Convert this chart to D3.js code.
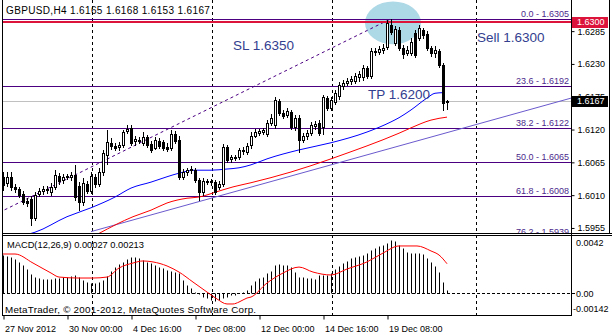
<!DOCTYPE html>
<html><head><meta charset="utf-8">
<script src="https://cdn.jsdelivr.net/npm/d3@7"></script>
<style>
html,body{margin:0;padding:0;background:#fff;}
svg{display:block;font-family:"Liberation Sans",Arial,sans-serif;}
</style></head><body>
<svg id="c" width="612" height="335"></svg>
<script>
// ---------------- data ----------------
const titleText = "GBPUSD,H4  1.6165 1.6168 1.6153 1.6167";
const macdTitle = "MACD(12,26,9) 0.00027 0.00213";
const copyright = "MetaTrader, \u00a9 2001-2012, MetaQuotes Software Corp.";

const opens = [1.6040,1.6030,1.6040,1.6023,1.6020,1.6011,1.6000,1.6003,1.5971,1.6011,
1.6016,1.6020,1.6015,1.6023,1.6041,1.6035,1.6040,1.6040,1.6043,1.6025,
1.5998,1.6028,1.6016,1.6040,1.6028,1.6048,1.6076,1.6097,1.6092,1.6090,
1.6093,1.6117,1.6122,1.6100,1.6100,1.6097,1.6107,1.6095,1.6088,1.6100,
1.6098,1.6090,1.6088,1.6112,1.6102,1.6040,1.6048,1.6051,1.6051,1.6035,
1.6015,1.6033,1.6031,1.6031,1.6023,1.6028,1.6090,1.6070,1.6071,1.6073,
1.6083,1.6081,1.6093,1.6108,1.6113,1.6115,1.6112,1.6130,1.6127,1.6167,
1.6147,1.6143,1.6148,1.6123,1.6138,1.6102,1.6108,1.6113,1.6125,1.6130,
1.6123,1.6172,1.6155,1.6165,1.6176,1.6192,1.6197,1.6201,1.6201,1.6207,
1.6207,1.6222,1.6209,1.6251,1.6249,1.6252,1.6257,1.6294,1.6264,1.6286,
1.6256,1.6247,1.6247,1.6281,1.6273,1.6286,1.6279,1.6256,1.6247,1.6251,
1.6227,1.6165];
const highs = [1.6048,1.6048,1.6048,1.6028,1.6023,1.6016,1.6005,1.6008,1.6015,1.6021,
1.6025,1.6025,1.6030,1.6051,1.6046,1.6045,1.6045,1.6048,1.6060,1.6031,
1.6038,1.6033,1.6048,1.6045,1.6055,1.6085,1.6118,1.6105,1.6097,1.6098,
1.6118,1.6127,1.6127,1.6108,1.6107,1.6115,1.6110,1.6100,1.6107,1.6105,
1.6102,1.6097,1.6118,1.6117,1.6108,1.6053,1.6055,1.6058,1.6055,1.6038,
1.6038,1.6036,1.6036,1.6035,1.6033,1.6095,1.6093,1.6076,1.6076,1.6088,
1.6090,1.6097,1.6115,1.6120,1.6120,1.6122,1.6135,1.6145,1.6174,1.6170,
1.6152,1.6155,1.6152,1.6143,1.6143,1.6113,1.6118,1.6131,1.6133,1.6135,
1.6177,1.6176,1.6174,1.6186,1.6199,1.6202,1.6206,1.6209,1.6214,1.6217,
1.6227,1.6226,1.6256,1.6256,1.6259,1.6263,1.6303,1.6305,1.6293,1.6291,
1.6261,1.6259,1.6273,1.6286,1.6294,1.6289,1.6284,1.6259,1.6259,1.6254,
1.6231,1.6168];
const lows = [1.6018,1.6025,1.6018,1.6015,1.6006,1.5994,1.5991,1.5959,1.5968,1.6008,
1.6011,1.6013,1.6010,1.6020,1.6028,1.6030,1.6036,1.6035,1.6001,1.5984,
1.5993,1.6013,1.6013,1.6023,1.6025,1.6043,1.6061,1.6086,1.6085,1.6085,
1.6090,1.6113,1.6093,1.6093,1.6097,1.6093,1.6090,1.6081,1.6086,1.6088,
1.6085,1.6083,1.6085,1.6097,1.6036,1.6036,1.6043,1.6046,1.6031,1.6001,
1.6010,1.6028,1.6026,1.6011,1.6020,1.6025,1.6065,1.6065,1.6068,1.6070,
1.6078,1.6078,1.6088,1.6107,1.6110,1.6112,1.6108,1.6127,1.6122,1.6143,
1.6138,1.6140,1.6120,1.6118,1.6081,1.6098,1.6103,1.6110,1.6120,1.6110,
1.6112,1.6152,1.6152,1.6162,1.6170,1.6187,1.6194,1.6196,1.6197,1.6201,
1.6202,1.6206,1.6206,1.6244,1.6246,1.6247,1.6254,1.6279,1.6261,1.6252,
1.6239,1.6244,1.6244,1.6241,1.6269,1.6273,1.6252,1.6242,1.6241,1.6224,
1.6152,1.6153];
const closes = [1.6026,1.6040,1.6023,1.6020,1.6010,1.5998,1.5996,1.5971,1.6010,1.6016,
1.6020,1.6018,1.6023,1.6043,1.6033,1.6040,1.6041,1.6043,1.6006,1.5998,
1.6030,1.6016,1.6041,1.6028,1.6048,1.6080,1.6098,1.6092,1.6088,1.6093,
1.6115,1.6120,1.6097,1.6103,1.6102,1.6107,1.6093,1.6085,1.6102,1.6092,
1.6088,1.6086,1.6112,1.6100,1.6040,1.6048,1.6051,1.6053,1.6035,1.6015,
1.6033,1.6031,1.6033,1.6015,1.6028,1.6090,1.6068,1.6073,1.6073,1.6085,
1.6085,1.6092,1.6108,1.6115,1.6117,1.6118,1.6130,1.6138,1.6169,1.6147,
1.6142,1.6150,1.6123,1.6138,1.6102,1.6108,1.6113,1.6127,1.6128,1.6113,
1.6174,1.6155,1.6169,1.6181,1.6194,1.6197,1.6201,1.6204,1.6209,1.6212,
1.6222,1.6209,1.6251,1.6249,1.6254,1.6256,1.6298,1.6283,1.6288,1.6256,
1.6246,1.6252,1.6266,1.6244,1.6289,1.6278,1.6256,1.6247,1.6252,1.6227,
1.6163,1.6167];

// moving averages (bar index, price)
const blueIdx = [7,8,16,22,28,32,37,41,44,48,52,56,59,62,66,74,82,91,97,99,102,106,108,110];
const blueVal = [1.5945,1.5947,1.5973,1.5988,1.6006,1.6021,1.6031,1.6040,1.6046,1.6051,1.6051,1.6053,1.6055,1.6060,1.6070,1.6085,1.6097,1.6115,1.6132,1.6139,1.6152,1.6172,1.6180,1.6181];
const redIdx = [24,32.5,37,41,46,49,53.5,57.5,62,72,82,87,95,99,102,107,111];
const redVal = [1.5945,1.5973,1.5984,1.5996,1.6004,1.6006,1.6015,1.6023,1.6030,1.6048,1.6070,1.6082,1.6102,1.6113,1.6122,1.6135,1.6140];

// trend line anchors
const trendIdx = [22, 111];
const trendVal = [1.5948, 1.6114];

// fibonacci
const fiboLevels = ["0.0","23.6","38.2","50.0","61.8","76.2"];
const fiboPrices = [1.6305,1.6192,1.6122,1.6065,1.6008,1.5939];
const fiboIdx = [-48, 97];
const fiboVal = [1.5824, 1.6305];

const sellLevel = 1.6300;
const bidPrice = 1.6167;

// ellipse corners
const ellipseIdx = [90.5, 104.5];
const ellipseVal = [1.6334, 1.6262];

// text notes
const noteText = ["SL 1.6350", "TP 1.6200", "Sell 1.6300"];
const noteIdx = [57.5, 91.25, 118.5];
const noteVal = [1.6252, 1.6170, 1.6266];

// axes
const priceTicks = [1.6285,1.6230,1.6175,1.6120,1.6065,1.6010,1.5955];
const timeTickIdx = [0,16,32,48,64,80,96];
const timeTickLabels = ["27 Nov 2012","30 Nov 00:00","4 Dec 16:00","7 Dec 08:00","12 Dec 00:00","14 Dec 16:00","19 Dec 08:00"];
const gridIdx = [22.25, 52.25, 82.25, 118.25];

// MACD
const macdHist = [0.00276,0.00269,0.00262,0.00247,0.00226,0.00204,0.00175,0.00139,0.00117,0.00110,
0.00103,0.00103,0.00103,0.00110,0.00110,0.00117,0.00117,0.00125,0.00132,0.00117,
0.00096,0.00081,0.00074,0.00074,0.00081,0.00096,0.00125,0.00161,0.00189,0.00211,
0.00226,0.00247,0.00262,0.00262,0.00254,0.00240,0.00226,0.00218,0.00204,0.00189,
0.00182,0.00168,0.00161,0.00153,0.00146,0.00096,0.00060,0.00038,0.00009,-0.00005,
-0.00027,-0.00034,-0.00048,-0.00055,-0.00048,-0.00034,-0.00027,-0.00012,-0.00012,0.00002,
0.00009,0.00024,0.00060,0.00089,0.00110,0.00117,0.00146,0.00161,0.00204,0.00211,
0.00204,0.00204,0.00189,0.00153,0.00117,0.00117,0.00110,0.00110,0.00103,0.00132,
0.00132,0.00132,0.00146,0.00175,0.00197,0.00218,0.00233,0.00254,0.00262,0.00269,
0.00276,0.00290,0.00312,0.00326,0.00341,0.00348,0.00362,0.00384,0.00377,0.00348,
0.00326,0.00298,0.00290,0.00290,0.00290,0.00283,0.00254,0.00226,0.00197,0.00153,
0.00081,0.00027];
const sigIdx = [0,3,7.5,12,14,19,22.5,26,29,32.5,35,37.5,41,44,47.5,51,53.5,56,57.5,59,61,62,66,70,74,77.5,82,86,91,95,99,103.5,107,109,111];
const sigVal = [0.00283,0.00283,0.00218,0.00146,0.00117,0.00110,0.00110,0.00117,0.00182,0.00218,0.00233,0.00226,0.00197,0.00153,0.00081,0.00009,-0.00041,-0.00077,-0.00077,-0.00063,-0.00034,-0.00027,0.00074,0.00146,0.00189,0.00153,0.00132,0.00175,0.00226,0.00290,0.00341,0.00341,0.00305,0.00276,0.00213];
const macdTicks = [0.0042, 0.00, -0.00142];
const macdTickLabels = ["0.0042","0.00","-0.00142"];

// ---------------- layout ----------------
const PL = 2, PR = 571, PT = 0, PB = 233, MT = 235, MB = 315;
const FONT = '"Liberation Sans",Arial,sans-serif';
const svg = d3.select('#c');
const x = d3.scaleLinear().domain([0, 111]).range([3, 447]);
const y = d3.scaleLinear().domain([1.59457, 1.63330]).range([233, 2]);
const ym = d3.scaleLinear().domain([-0.00142, 0.0042]).range([313, 235]);
const cx = v => Math.round(x(v)) + 0.5;
const cy = v => Math.round(y(v)) + 0.5;

svg.append('rect').attr('width', 612).attr('height', 335).attr('fill', '#fff');
const defs = svg.append('defs');
defs.append('clipPath').attr('id', 'cm').append('rect').attr('x', PL).attr('y', PT).attr('width', PR - PL).attr('height', PB - PT);
defs.append('clipPath').attr('id', 'cd').append('rect').attr('x', PL).attr('y', MT).attr('width', PR - PL).attr('height', MB - MT);

const gM = svg.append('g').attr('clip-path', 'url(#cm)');
const gD = svg.append('g').attr('clip-path', 'url(#cd)');

// ellipse (background object)
gM.append('ellipse')
  .attr('cx', (x(ellipseIdx[0]) + x(ellipseIdx[1])) / 2)
  .attr('cy', (y(ellipseVal[0]) + y(ellipseVal[1])) / 2)
  .attr('rx', Math.abs(x(ellipseIdx[1]) - x(ellipseIdx[0])) / 2)
  .attr('ry', Math.abs(y(ellipseVal[1]) - y(ellipseVal[0])) / 2)
  .attr('fill', '#add8e6');

// vertical grid
[[gM, PT, PB], [gD, MT, MB]].forEach(([g, a, b]) => {
  g.selectAll(null).data(gridIdx).join('line')
    .attr('x1', d => cx(d)).attr('x2', d => cx(d)).attr('y1', a).attr('y2', b)
    .attr('stroke', '#000').attr('stroke-dasharray', '3,3');
});

// fibo levels
gM.selectAll('.fl').data(fiboPrices).join('line')
  .attr('x1', PL).attr('x2', PR).attr('y1', d => cy(d)).attr('y2', d => cy(d))
  .attr('stroke', '#4b0082').attr('stroke-width', 1);
// fibo diagonal
gM.append('line')
  .attr('x1', x(fiboIdx[0])).attr('y1', y(fiboVal[0]))
  .attr('x2', x(fiboIdx[1])).attr('y2', y(fiboVal[1]))
  .attr('stroke', '#4b0082').attr('stroke-dasharray', '3,3');

// sell level line
gM.append('line').attr('x1', PL).attr('x2', PR)
  .attr('y1', Math.round(y(sellLevel))).attr('y2', Math.round(y(sellLevel)))
  .attr('stroke', '#dc143c').attr('stroke-width', 2);
// bid line
gM.append('line').attr('x1', PL).attr('x2', PR).attr('y1', cy(bidPrice)).attr('y2', cy(bidPrice))
  .attr('stroke', '#c0c0c0');

// trend line as ray to the right
const tSlope = (trendVal[1] - trendVal[0]) / (trendIdx[1] - trendIdx[0]);
const tEnd = x.invert(PR + 2);
gM.append('line')
  .attr('x1', x(trendIdx[0])).attr('y1', y(trendVal[0]))
  .attr('x2', x(tEnd)).attr('y2', y(trendVal[0] + tSlope * (tEnd - trendIdx[0])))
  .attr('stroke', '#6a5acd');

// moving averages
const lineGen = d3.line().curve(d3.curveMonotoneX);
gM.append('path').attr('d', lineGen(blueIdx.map((d, i) => [x(d), y(blueVal[i])])))
  .attr('fill', 'none').attr('stroke', '#0000ff');
gM.append('path').attr('d', lineGen(redIdx.map((d, i) => [x(d), y(redVal[i])])))
  .attr('fill', 'none').attr('stroke', '#ff0000');

// candles
const idx = d3.range(opens.length);
gM.selectAll('.wick').data(idx).join('line')
  .attr('x1', i => cx(i)).attr('x2', i => cx(i))
  .attr('y1', i => Math.round(y(highs[i]))).attr('y2', i => Math.round(y(lows[i])) + 1)
  .attr('stroke', '#000');
idx.forEach(i => {
  const px = Math.round(x(i));
  const t = Math.round(y(Math.max(opens[i], closes[i])));
  const b = Math.round(y(Math.min(opens[i], closes[i])));
  if (closes[i] > opens[i]) {
    gM.append('rect').attr('x', px - 0.5).attr('y', t + 0.5).attr('width', 2).attr('height', Math.max(0, b - t))
      .attr('fill', '#fff').attr('stroke', '#000');
  } else {
    gM.append('rect').attr('x', px - 1).attr('y', t).attr('width', 3).attr('height', Math.max(1, b - t + 1))
      .attr('fill', '#000');
  }
});

// fibo labels
gM.selectAll('.ft').data(fiboPrices).join('text')
  .attr('x', PR - 2).attr('y', d => Math.round(y(d)) - 2)
  .attr('text-anchor', 'end').attr('font-size', 9).attr('fill', '#4b2a8c')
  .text((d, i) => fiboLevels[i] + " - " + d.toFixed(4));

// notes
gM.selectAll('.nt').data(noteText).join('text')
  .attr('x', (d, i) => x(noteIdx[i])).attr('y', (d, i) => y(noteVal[i]))
  .attr('font-size', 13.5).attr('fill', '#33408f').text(d => d);

// title
svg.append('text').attr('x', 6).attr('y', 14).attr('font-size', 10).attr('letter-spacing', 0.35)
  .attr('fill', '#000').text(titleText);

// ---------------- MACD ----------------
const z = Math.round(ym(0)) + 0.5;
gD.append('line').attr('x1', PL).attr('x2', PR).attr('y1', z).attr('y2', z)
  .attr('stroke', '#000').attr('stroke-dasharray', '3,2');
gD.selectAll('.h').data(macdHist).join('line')
  .attr('x1', (d, i) => cx(i)).attr('x2', (d, i) => cx(i))
  .attr('y1', z).attr('y2', d => Math.round(ym(d)) + 0.5)
  .attr('stroke', '#000');
gD.append('path').attr('d', lineGen(sigIdx.map((d, i) => [x(d), ym(sigVal[i])])))
  .attr('fill', 'none').attr('stroke', '#ff0000');
svg.append('text').attr('x', 7).attr('y', 248).attr('font-size', 9.3).attr('fill', '#000').text(macdTitle);
svg.append('text').attr('x', 5).attr('y', 313).attr('font-size', 9.8).attr('letter-spacing', 0.25)
  .attr('fill', '#000').text(copyright);

// ---------------- borders ----------------
const bd = svg.append('g').attr('stroke', '#000').attr('shape-rendering', 'crispEdges');
bd.append('line').attr('x1', 2.5).attr('x2', 2.5).attr('y1', 0).attr('y2', MB + 0.5);
bd.append('line').attr('x1', PR + 0.5).attr('x2', PR + 0.5).attr('y1', 0).attr('y2', MB + 0.5);
bd.append('line').attr('x1', 2).attr('x2', 612).attr('y1', PB + 0.5).attr('y2', PB + 0.5);
bd.append('line').attr('x1', 2).attr('x2', 612).attr('y1', MT + 0.5).attr('y2', MT + 0.5);
bd.append('line').attr('x1', 2).attr('x2', PR + 1).attr('y1', MB + 0.5).attr('y2', MB + 0.5);
bd.append('line').attr('x1', 609.5).attr('x2', 609.5).attr('y1', 0).attr('y2', PB);

// ---------------- axes ----------------
const ay = svg.append('g').attr('transform', `translate(${PR + 0.5},0.5)`)
  .call(d3.axisRight(y).tickValues(priceTicks).tickFormat(d3.format('.4f')).tickSize(3).tickPadding(3));
ay.select('.domain').remove();
ay.selectAll('text').attr('font-size', 9).attr('font-family', FONT).attr('fill', '#000');

// price boxes
[[sellLevel, '#dc143c'], [bidPrice, '#000']].forEach(([v, col]) => {
  const yy = Math.round(y(v));
  svg.append('rect').attr('x', PR + 1).attr('y', yy - 5).attr('width', 36).attr('height', 11).attr('fill', col);
  svg.append('text').attr('x', PR + 6).attr('y', yy).attr('dy', '0.35em').attr('font-size', 9)
    .attr('fill', '#fff').text(v.toFixed(4));
});

// time axis
const ax = svg.append('g').attr('transform', `translate(0.5,${MB + 0.5})`)
  .call(d3.axisBottom(x).tickValues(timeTickIdx).tickFormat((d, i) => timeTickLabels[i]).tickSize(4).tickPadding(6));
ax.select('.domain').remove();
ax.selectAll('text').attr('font-size', 9).attr('font-family', FONT)
  .attr('text-anchor', 'start').attr('dx', 1).attr('fill', '#000');

// MACD scale labels (drawn last)
const mg = svg.append('g').attr('font-family', FONT).attr('font-size', 9).attr('fill', '#000');
mg.append('line').attr('x1', PR).attr('x2', PR + 4).attr('y1', z).attr('y2', z).attr('stroke', '#000');
mg.append('text').attr('x', PR + 5).attr('y', Math.round(ym(macdTicks[0])) + 11).text(macdTickLabels[0]);
mg.append('text').attr('x', PR + 5).attr('y', z + 3.5).text(macdTickLabels[1]);
mg.append('text').attr('x', PR + 2).attr('y', Math.round(ym(macdTicks[2])) - 1).text(macdTickLabels[2]);
</script>
</body></html>
